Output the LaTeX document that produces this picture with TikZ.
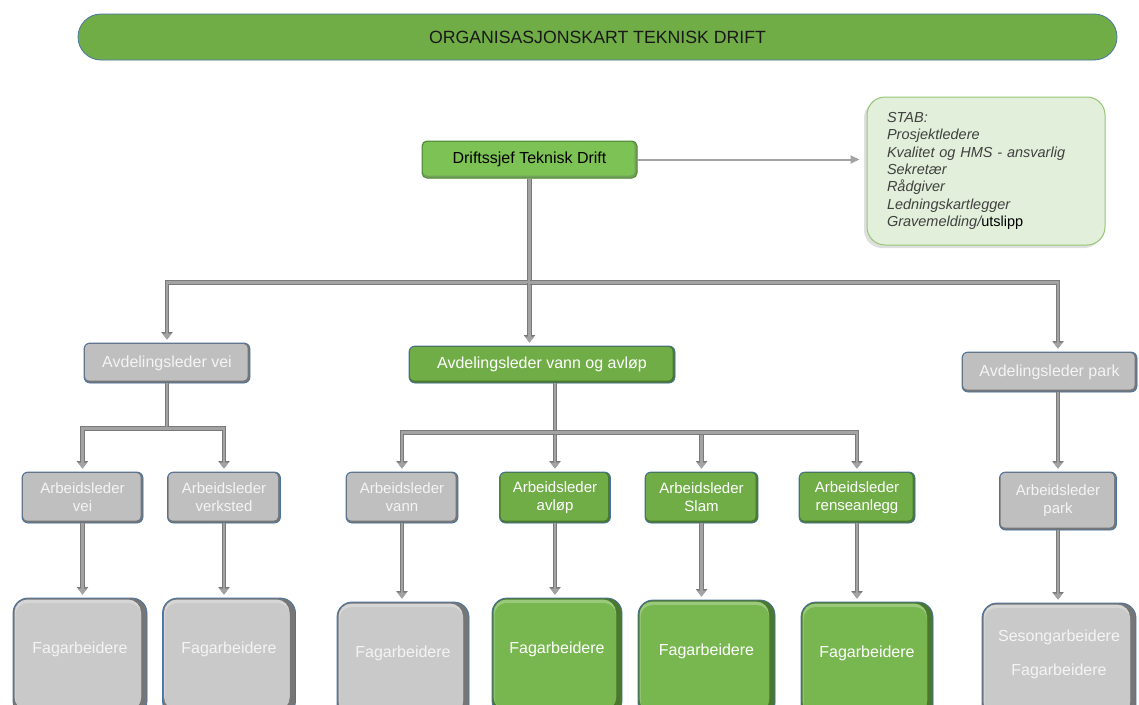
\documentclass[tikz,border=0pt]{standalone}
\usepackage{fontspec}
\setmainfont{Liberation Sans}
\usetikzlibrary{arrows.meta, positioning, calc, shadows}
\definecolor{cGreen}{RGB}{112,173,71}
\definecolor{cGreenLt}{RGB}{120,183,80}
\definecolor{cGreenDk}{RGB}{74,120,46}
\definecolor{cChief}{RGB}{124,194,84}
\definecolor{cChiefDk}{RGB}{78,138,49}
\definecolor{cGray}{RGB}{191,191,191}
\definecolor{cGrayLt}{RGB}{201,201,201}
\definecolor{cGrayDk}{RGB}{118,118,118}
\definecolor{cBorder}{RGB}{72,117,166}
\definecolor{cStab}{RGB}{226,239,218}
\definecolor{cStabEdge}{RGB}{150,198,117}
\definecolor{cStabText}{RGB}{64,64,64}
\definecolor{cArrow}{RGB}{163,163,163}
\definecolor{cArrowDk}{RGB}{122,122,122}
\definecolor{cText}{RGB}{244,244,244}
\tikzset{
	% inner shading of the small boxes
	rim/.style 2 args={path picture={
		\fill[#2] (path picture bounding box.south west) rectangle (path picture bounding box.north east);
		\fill[#1, rounded corners=4pt] ([shift={(1pt,-1pt)}]path picture bounding box.north west) rectangle ([shift={(-2.5pt,2.5pt)}]path picture bounding box.south east);}},
	% raised look of the worker boxes
	bevel/.style 2 args={path picture={
		\fill[#2] (path picture bounding box.south west) rectangle (path picture bounding box.north east);
		\fill[#1!75!white, rounded corners=13pt] ([shift={(1.5pt,-1.5pt)}]path picture bounding box.north west) rectangle ([shift={(-6pt,6pt)}]path picture bounding box.south east);
		\fill[#1, rounded corners=12pt] ([shift={(2.5pt,-5pt)}]path picture bounding box.north west) rectangle ([shift={(-6pt,6pt)}]path picture bounding box.south east);}},
	titlebar/.style={rectangle, rounded corners=23pt, draw=cBorder, line width=.8pt, fill=cGreen, minimum width=1039pt, minimum height=46pt, font=\fontsize{17.7}{20}\selectfont, text=black!90},
	chief/.style={rectangle, rounded corners=5pt, draw=cChiefDk, line width=1pt, fill=cChief, minimum width=215pt, minimum height=37pt, font=\fontsize{16}{19}\selectfont, text=black, rim={cChief}{cChiefDk!80}},
	stabbox/.style={rectangle, rounded corners=18pt, draw=cStabEdge, line width=1pt, fill=cStab, minimum width=238pt, minimum height=148pt, text width=198pt, inner xsep=20pt, align=left, font=\fontsize{14.5}{17.3}\selectfont\itshape, text=cStabText, drop shadow={shadow xshift=-3pt, shadow yshift=-3pt, opacity=.25}},
	lead/.style={rectangle, rounded corners=6pt, draw=cBorder, line width=.8pt, align=center, inner sep=0pt},
	graylead/.style={lead, fill=cGray, text=cText, rim={cGray}{cGrayDk}},
	greenlead/.style={lead, fill=cGreen, text=white, rim={cGreen}{cGreenDk}},
	dept/.style={font=\fontsize{16}{19}\selectfont},
	fore/.style={font=\fontsize{15}{18}\selectfont, minimum height=51pt},
	worker/.style={rectangle, rounded corners=15pt, draw=cBorder, line width=.8pt, minimum height=118pt, align=center, text depth=18pt, font=\fontsize{16}{19}\selectfont, inner sep=0pt},
	grayworker/.style={worker, fill=cGrayLt, text=cText, bevel={cGrayLt}{cGrayDk}},
	greenworker/.style={worker, fill=cGreenLt, text=white, bevel={cGreenLt}{cGreenDk}},
	conn/.style={draw=cArrow, line width=2.6pt, shorten >=3pt, -{Triangle[length=6pt,width=8.5pt]}, preaction={draw=cArrowDk, line width=4.2pt, shorten >=3pt, -{Triangle[length=7.5pt,width=11pt]}}},
	staffconn/.style={draw=cArrow, line width=2pt, shorten >=7pt, -{Triangle[length=9pt,width=8pt]}},
}
\begin{document}
\begin{tikzpicture}[x=1pt, y=-1pt]
	\useasboundingbox (0,0) rectangle (1139,704);
	\clip (0,0) rectangle (1139,704);
	% title
	\node[titlebar] (title) at (597.5,37) {ORGANISASJONSKART TEKNISK DRIFT};
	% top level and staff
	\node[chief] (chief) at (529.5,159.5) {Driftssjef Teknisk Drift};
	\node[stabbox] (stab) at (986,171) {STAB:\\ Prosjektledere\\ Kvalitet og HMS - ansvarlig\\ Sekretær\\ Rådgiver\\ Ledningskartlegger\\ Gravemelding/{\upshape\color{black}utslipp}};
	% departments
	\node[graylead, dept, minimum width=166pt, minimum height=40pt] (avdvei) at (167,363) {Avdelingsleder vei};
	\node[greenlead, dept, minimum width=266pt, minimum height=37pt] (avdvann) at (542,364.5) {Avdelingsleder vann og avløp};
	\node[graylead, dept, minimum width=175pt, minimum height=40pt] (avdpark) at (1049.5,372) {Avdelingsleder park};
	% foremen
	\node[graylead, fore, minimum width=121pt] (arbvei) at (82.5,497.5) {Arbeidsleder\\vei};
	\node[graylead, fore, minimum width=113pt] (arbverk) at (224,497.5) {Arbeidsleder\\verksted};
	\node[graylead, fore, minimum width=112pt] (arbvann) at (402,497.5) {Arbeidsleder\\vann};
	\node[greenlead, fore, minimum width=111pt] (arbavlop) at (555,497.5) {Arbeidsleder\\avløp};
	\node[greenlead, fore, minimum width=113pt] (arbslam) at (701.5,497.5) {Arbeidsleder\\Slam};
	\node[greenlead, fore, minimum width=116pt] (arbrense) at (857,497.5) {Arbeidsleder\\renseanlegg};
	\node[graylead, fore, minimum width=117pt, minimum height=58pt] (arbpark) at (1058,501) {Arbeidsleder\\park};
	% workers
	\node[grayworker, minimum width=134pt] (fag1) at (80,657) {Fagarbeidere};
	\node[grayworker, minimum width=133pt] (fag2) at (229,657) {Fagarbeidere};
	\node[grayworker, minimum width=132pt] (fag3) at (403,661) {Fagarbeidere};
	\node[greenworker, minimum width=130pt] (fag4) at (557,657) {Fagarbeidere};
	\node[greenworker, minimum width=137pt] (fag5) at (706.5,659) {Fagarbeidere};
	\node[greenworker, minimum width=132pt] (fag6) at (867,661) {Fagarbeidere};
	\node[grayworker, minimum width=154pt] (fag7) at (1059,662) {Sesongarbeidere\\[15pt]Fagarbeidere};
	% chief to departments
	\coordinate (hub) at ($(chief.south)+(0,104)$);
	\draw[conn] (chief.south) -- (hub) -| (avdvei.north);
	\draw[conn] (hub) -- (hub |- avdvann.north);
	\draw[conn] (hub) -| (avdpark.north -| arbpark.north);
	\draw[staffconn] (chief.east) -- (chief.east -| stab.west);
	% vei
	\coordinate (veihub) at ($(avdvei.south)+(0,45)$);
	\draw[conn] (avdvei.south) -- (veihub) -| (arbvei.north);
	\draw[conn] (veihub) -| (arbverk.north);
	% vann og avløp
	\coordinate (vanndrop) at (avdvann.south -| arbavlop.north);
	\coordinate (vannhub) at ($(vanndrop)+(0,49)$);
	\draw[conn] (vanndrop) -- (arbavlop.north);
	\draw[conn] (vannhub) -| (arbvann.north);
	\draw[conn] (vannhub) -| (arbslam.north);
	\draw[conn] (vannhub) -| (arbrense.north);
	% park
	\draw[conn] (avdpark.south -| arbpark.north) -- (arbpark.north);
	% foremen to workers
	\foreach \a/\b in {arbvei/fag1, arbverk/fag2, arbvann/fag3, arbavlop/fag4, arbslam/fag5, arbrense/fag6, arbpark/fag7}
		\draw[conn] (\a.south) -- (\a.south |- \b.north);
\end{tikzpicture}
\end{document}
